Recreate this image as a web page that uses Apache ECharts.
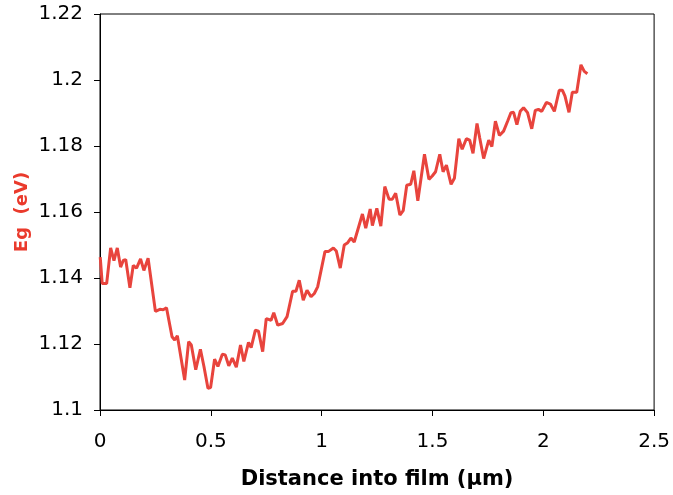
<!DOCTYPE html>
<html><head><meta charset="utf-8">
<script src="https://cdn.jsdelivr.net/npm/echarts@6/dist/echarts.min.js"></script>
<style>html,body{margin:0;padding:0;background:#fff}#c{width:673px;height:495px}</style>
</head><body><div id="c"></div>
<script>
var distance = [0.001,0.010,0.030,0.048,0.063,0.078,0.093,0.105,0.116,0.135,0.150,0.165,0.183,0.198,0.217,0.250,0.270,0.285,0.300,0.325,0.337,0.349,0.382,0.400,0.412,0.432,0.453,0.469,0.487,0.499,0.517,0.532,0.552,0.565,0.581,0.597,0.615,0.634,0.649,0.670,0.682,0.701,0.715,0.734,0.750,0.772,0.784,0.802,0.824,0.844,0.869,0.884,0.899,0.917,0.934,0.952,0.967,0.982,1.015,1.030,1.053,1.066,1.084,1.102,1.116,1.132,1.147,1.184,1.199,1.219,1.229,1.249,1.267,1.285,1.304,1.319,1.334,1.353,1.368,1.384,1.402,1.416,1.434,1.464,1.484,1.499,1.514,1.533,1.548,1.563,1.584,1.599,1.619,1.634,1.653,1.668,1.683,1.701,1.713,1.731,1.754,1.768,1.784,1.802,1.821,1.839,1.854,1.866,1.881,1.896,1.911,1.929,1.948,1.964,1.978,1.993,2.014,2.032,2.050,2.072,2.086,2.098,2.116,2.131,2.151,2.170,2.185,2.199];
var eg = [1.1463,1.1383,1.1383,1.1491,1.1453,1.1491,1.1433,1.1453,1.1456,1.1370,1.1438,1.1430,1.1458,1.1423,1.1460,1.1299,1.1305,1.1304,1.1310,1.1222,1.1212,1.1225,1.1091,1.1207,1.1197,1.1122,1.1184,1.1132,1.1066,1.1068,1.1154,1.1132,1.1169,1.1167,1.1134,1.1157,1.1130,1.1197,1.1147,1.1205,1.1189,1.1242,1.1239,1.1177,1.1277,1.1272,1.1295,1.1257,1.1262,1.1283,1.1360,1.1360,1.1393,1.1333,1.1363,1.1343,1.1353,1.1373,1.1480,1.1480,1.1491,1.1482,1.1430,1.1500,1.1506,1.1521,1.1509,1.1594,1.1551,1.1609,1.1559,1.1611,1.1557,1.1677,1.1639,1.1639,1.1657,1.1591,1.1604,1.1681,1.1684,1.1725,1.1634,1.1775,1.1699,1.1709,1.1722,1.1775,1.1722,1.1742,1.1684,1.1702,1.1822,1.1790,1.1822,1.1818,1.1778,1.1868,1.1825,1.1762,1.1818,1.1798,1.1875,1.1832,1.1845,1.1875,1.1901,1.1902,1.1865,1.1905,1.1916,1.1901,1.1852,1.1908,1.1911,1.1905,1.1932,1.1927,1.1905,1.1969,1.1969,1.1951,1.1902,1.1963,1.1963,1.2046,1.2026,1.2019];
var xTicks = [0, 0.5, 1, 1.5, 2, 2.5];
var yTicks = [1.1, 1.12, 1.14, 1.16, 1.18, 1.2, 1.22];
var xTitle = 'Distance into film (\u03bcm)';
var yTitle = 'Eg  (eV)';

var font = 'DejaVu Sans, Verdana, sans-serif';
var chart = echarts.init(document.getElementById('c'), null, {renderer: 'canvas'});
chart.setOption({
  animation: false,
  backgroundColor: '#fff',
  grid: {left: 100, right: 17, top: 14, bottom: 83, show: true, borderColor: '#000', borderWidth: 1},
  xAxis: {
    type: 'value', min: xTicks[0], max: xTicks[xTicks.length-1], interval: 0.5,
    name: xTitle, nameLocation: 'middle', nameGap: 59,
    nameTextStyle: {fontFamily: font, fontWeight: 'bold', fontSize: 21, color: '#000'},
    axisLine: {show: true, lineStyle: {color: '#000', width: 1}},
    axisTick: {show: true, length: 6, lineStyle: {color: '#000'}},
    splitLine: {show: false},
    axisLabel: {fontFamily: font, fontSize: 20, color: '#000', margin: 22,
      formatter: function(v){ return String(v); }}
  },
  yAxis: {
    type: 'value', min: yTicks[0], max: yTicks[yTicks.length-1], interval: 0.02,
    name: yTitle, nameLocation: 'middle', nameGap: 69, nameRotate: 90, nameMoveOverlap: false,
    nameTextStyle: {fontFamily: font, fontWeight: 'bold', fontSize: 18, color: '#ea3a2c'},
    axisLine: {show: true, lineStyle: {color: '#000', width: 1}},
    axisTick: {show: true, length: 6, lineStyle: {color: '#000'}},
    splitLine: {show: false},
    axisLabel: {fontFamily: font, fontSize: 20, color: '#000', margin: 17,
      formatter: function(v){ return String(Math.round(v*100)/100); }}
  },
  series: [{
    type: 'line',
    data: distance.map(function(d, i){ return [d, eg[i]]; }),
    showSymbol: false,
    lineStyle: {color: '#e8443d', width: 3},
    itemStyle: {color: '#e8443d'}
  }]
});
</script></body></html>
